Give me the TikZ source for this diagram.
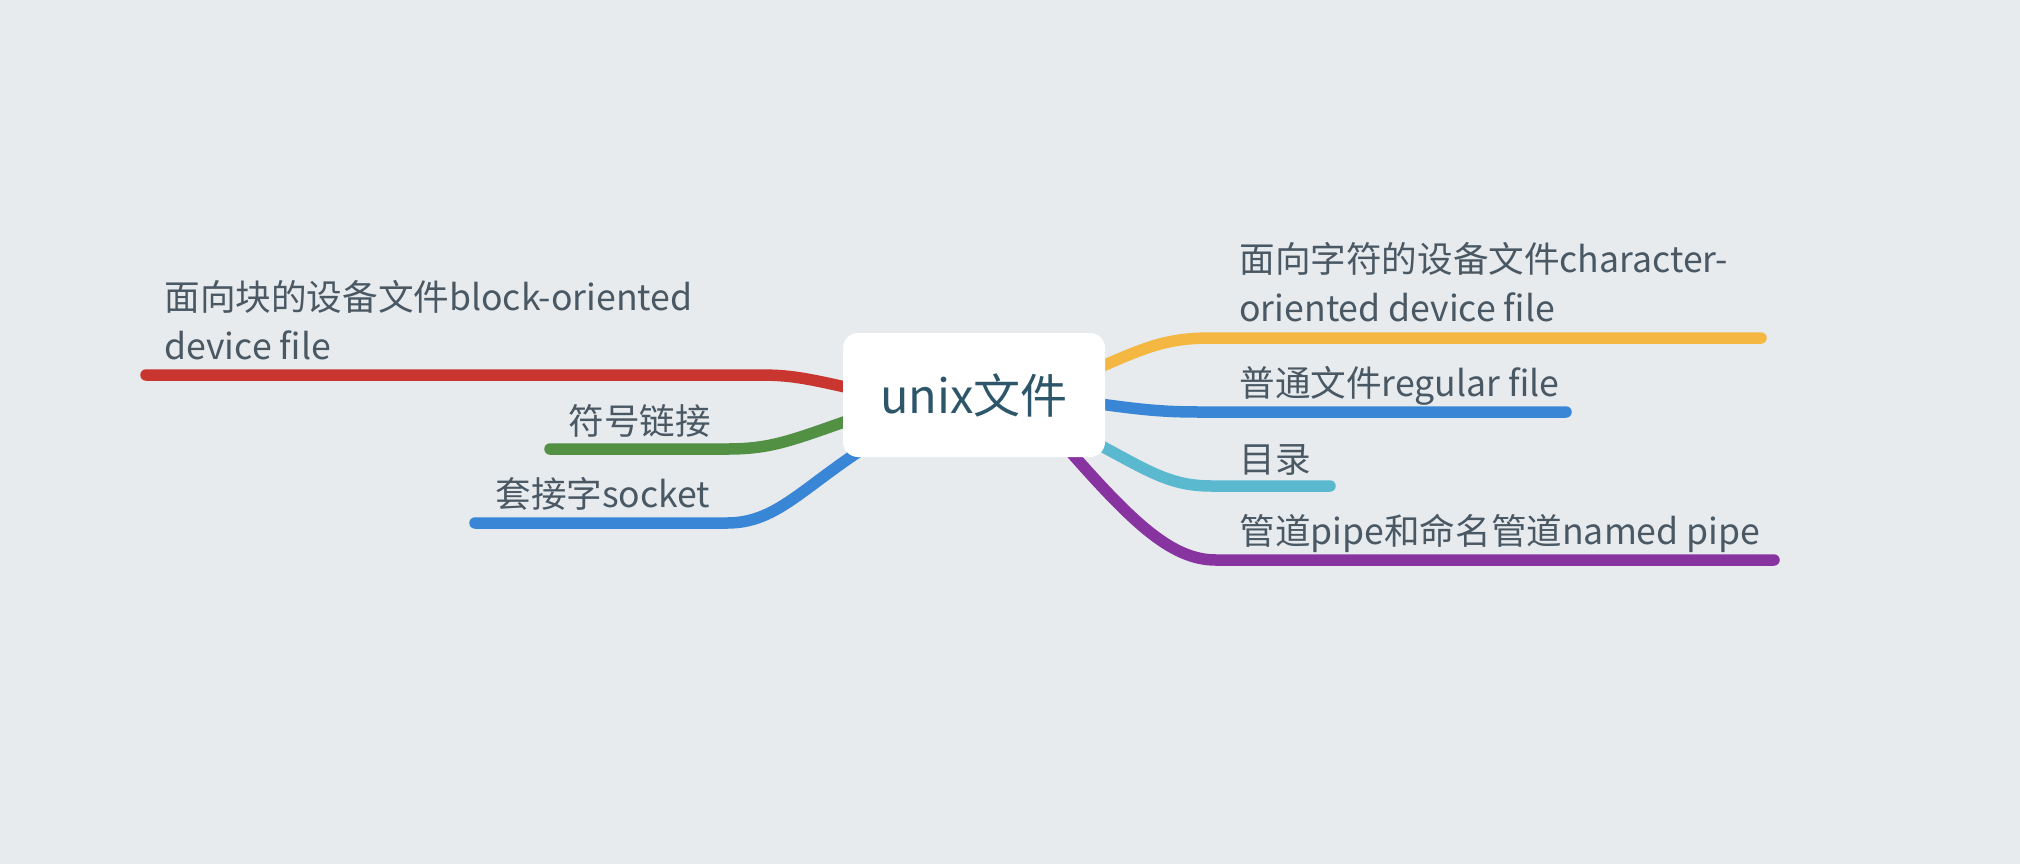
\documentclass[tikz,border=0pt]{standalone}
\usepackage{fontspec}
\newfontfamily\cjk{Noto Sans CJK SC}
\usetikzlibrary{calc}
\definecolor{bgc}{HTML}{E7EBEE}
\definecolor{txt}{HTML}{4A5864}
\definecolor{roottxt}{HTML}{2E566B}
\definecolor{cred}{HTML}{C9352F}
\definecolor{cgreen}{HTML}{529044}
\definecolor{cblue}{HTML}{3A86D6}
\definecolor{cyellow}{HTML}{F3B742}
\definecolor{ccyan}{HTML}{5BB9CF}
\definecolor{cpurple}{HTML}{8734A0}
\pgfdeclarelayer{bg}
\pgfsetlayers{bg,main}
\tikzset{
  branch/.style={line width=5.75pt, line cap=round, draw=#1},
  leaf/.style={font=\cjk\fontsize{17.8}{24.5}\selectfont, text=txt, inner sep=0pt, anchor=base west, align=left},
}

\begin{document}
\begin{tikzpicture}[x=0.5pt, y=-0.5pt]
\begin{pgfonlayer}{bg}
\fill[bgc] (0,0) rectangle (2020,864);
\end{pgfonlayer}
% root
\node[fill=white, rounded corners=7.5pt, minimum width=131pt, minimum height=62pt, font=\cjk\fontsize{23.5}{28}\selectfont, text=roottxt] (root) at (974,395) {unix文件};
% left leaves (base = last line)
\node[leaf] (blockdev) at (164,359) {面向块的设备文件block-oriented\\device file};
\node[leaf] (symlink) at (568,434) {符号链接};
\node[leaf] (socket) at (495,507) {套接字socket};
% right leaves
\node[leaf] (chardev) at (1239,321) {面向字符的设备文件character-\\oriented device file};
\node[leaf] (regular) at (1239,396) {普通文件regular file};
\node[leaf] (dir) at (1239,472) {目录};
\node[leaf] (pipe) at (1239,544) {管道pipe和命名管道named pipe};
% bends and ends
\coordinate (blockdev-b) at (759,375); \coordinate (blockdev-e) at (146,375);
\coordinate (symlink-b) at (727,449); \coordinate (symlink-e) at (550,449);
\coordinate (socket-b) at (727,523); \coordinate (socket-e) at (475,523);
\coordinate (chardev-b) at (1212,338); \coordinate (chardev-e) at (1761,338);
\coordinate (regular-b) at (1203,412); \coordinate (regular-e) at (1566,412);
\coordinate (dir-b) at (1212,486); \coordinate (dir-e) at (1330,486);
\coordinate (pipe-b) at (1216,560); \coordinate (pipe-e) at (1774,560);
% branches
\begin{pgfonlayer}{bg}
\draw[branch=cred] ($(root.west)+(7,-7)$) .. controls (805,378) and (790,375) .. (blockdev-b) -- (blockdev-e);
\draw[branch=cgreen] ($(root.west)+(7,25)$) .. controls (790,441) and (770,449) .. (symlink-b) -- (symlink-e);
\draw[branch=cblue] ($(root.south west)+(21,-9)$) .. controls (800,490) and (775,523) .. (socket-b) -- (socket-e);
\draw[branch=cyellow] ($(root.east)+(-5,-28)$) .. controls (1150,345) and (1170,338) .. (chardev-b) -- (chardev-e);
\draw[branch=cblue] ($(root.east)+(-5,9)$) .. controls (1150,411) and (1170,412) .. (regular-b) -- (regular-e);
\draw[branch=ccyan] ($(root.east)+(-15,45)$) .. controls (1150,472) and (1170,486) .. (dir-b) -- (dir-e);
\draw[branch=cpurple] ($(root.south east)+(-45,-17)$) .. controls (1130,520) and (1170,560) .. (pipe-b) -- (pipe-e);
\end{pgfonlayer}
\end{tikzpicture}
\end{document}
